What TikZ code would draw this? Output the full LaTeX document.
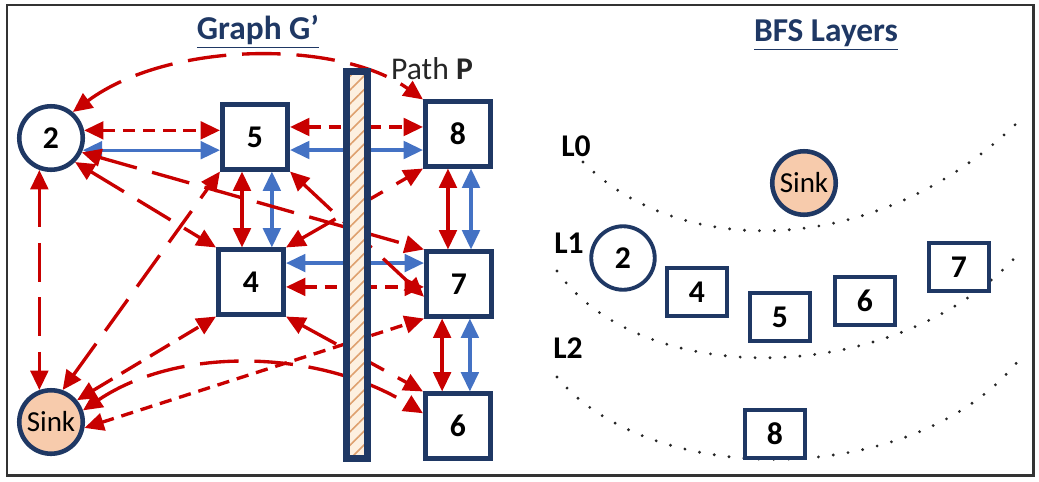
\documentclass[tikz,border=0pt]{standalone}
\usepackage{fontspec}
\setmainfont{Carlito}
\usepackage{xcolor}
\definecolor{gred}{RGB}{200,0,0}
\definecolor{gblue}{RGB}{68,114,196}
\definecolor{gnavy}{RGB}{31,56,100}
\definecolor{gpeach}{RGB}{247,203,172}
\definecolor{gcream}{RGB}{253,240,224}
\definecolor{ghatch}{RGB}{222,160,110}
\usetikzlibrary{arrows.meta,patterns.meta,calc}
\newcommand{\numfont}{\fontsize{18}{18}\selectfont\bfseries}

\begin{document}
\begin{tikzpicture}[x=0.02cm, y=-0.02cm,
    numbox/.style={rectangle, draw=gnavy, line width=2.6pt, fill=white,
                   minimum width=1.31cm, minimum height=1.29cm, font=\numfont},
    numcirc/.style={circle, draw=gnavy, line width=2.6pt, fill=white,
                    minimum size=1.27cm, font=\numfont},
    sinkcirc/.style={circle, draw=gnavy, line width=2.6pt, fill=gpeach,
                     minimum size=1.27cm, inner sep=0pt,
                     font=\fontsize{16.5}{16.5}\selectfont},
    layerbox/.style={rectangle, draw=gnavy, line width=2.2pt, fill=white,
                     minimum width=1.2cm, minimum height=0.96cm, font=\numfont},
    redarr/.style={draw=gred, line width=1.9pt,
                   {Triangle[length=11pt,width=10pt]}-{Triangle[length=11pt,width=10pt]}},
    bluearr/.style={draw=gblue, line width=1.9pt,
                    {Triangle[length=11pt,width=10pt]}-{Triangle[length=11pt,width=10pt]}},
    reddash/.style={redarr, dash pattern=on 7pt off 4.5pt},
    redmid/.style={redarr, dash pattern=on 13pt off 6pt},
    redlong/.style={redarr, dash pattern=on 22pt off 9pt},
    layerline/.style={draw=black!85, line width=1.8pt, line cap=round,
                      dash pattern=on 0pt off 8.5pt},
    titletxt/.style={text=gnavy, font=\fontsize{19}{19}\selectfont\bfseries},
    layerlbl/.style={font=\fontsize{18}{18}\selectfont\bfseries}
  ]
    \useasboundingbox (0,0) rectangle (1039,481);
    \draw[line width=1.7pt, black!80] (7,5) rectangle (1033,475);

    % Titles
    \node[titletxt] (gtitle) at (258,32) {\underline{Graph G’}};
    \node[titletxt] (btitle) at (826,35) {\underline{BFS Layers}};
    \node[font=\fontsize{18}{18}\selectfont, text=black!85] (plabel) at (432,69) {Path \textbf{P}};

    % Graph G'
    \node[numcirc]  (g2)    at (51,138)  {2};
    \node[sinkcirc] (gsink) at (51,422)  {Sink};
    \node[numbox]   (g5)    at (255,137) {5};
    \node[numbox]   (g4)    at (251,282) {4};
    \node[numbox]   (g8)    at (458,134) {8};
    \node[numbox]   (g7)    at (459,284) {7};
    \node[numbox]   (g6)    at (458,426) {6};

    % horizontal pairs
    \draw[reddash] (g2.13) -- (g2.13 -| g5.west);
    \draw[bluearr] (g2.-21) -- (g2.-21 -| g5.west);
    \draw[reddash] ([yshift=5.7pt]g5.east) -- ([yshift=5.7pt]g5.east -| g8.west);
    \draw[bluearr] ([yshift=-7.4pt]g5.east) -- ([yshift=-7.4pt]g5.east -| g8.west);
    \draw[bluearr] ([yshift=10.8pt]g4.east) -- ([yshift=10.8pt]g4.east -| g7.west);
    \draw[reddash] ([yshift=-2.8pt]g4.east) -- ([yshift=-2.8pt]g4.east -| g7.west);

    % vertical pairs
    \draw[redarr]  ([xshift=-7.4pt]g5.south) -- ([xshift=-7.4pt]g5.south |- g4.north);
    \draw[bluearr] ([xshift=9.6pt]g5.south) -- ([xshift=9.6pt]g5.south |- g4.north);
    \draw[redarr]  ([xshift=-5.7pt]g8.south) -- ([xshift=-5.7pt]g8.south |- g7.north);
    \draw[bluearr] ([xshift=7.4pt]g8.south) -- ([xshift=7.4pt]g8.south |- g7.north);
    \draw[redarr]  ([xshift=-9.6pt]g7.south) -- ([xshift=-9.6pt]g7.south |- g6.north);
    \draw[bluearr] ([xshift=6.2pt]g7.south) -- ([xshift=6.2pt]g7.south |- g6.north);
    \draw[redlong] (g2.-110) -- (gsink.110);

    % diagonals
    \draw[redlong] (g2.50) .. controls (170,40) and (340,40) .. (g8.north west);
    \draw[redlong] (g2.-45) -- (g4.north west);
    \draw[redlong] (g2.-25) -- (g7.north west);
    \draw[redlong] (g5.south east) -- (g7.-160);
    \draw[redlong] (g4.north east) -- (g8.south west);
    \draw[redlong] (g4.south east) -- (g6.north west);
    \draw[redlong] (gsink.70) -- (g5.south west);
    \draw[redmid]  (gsink.40) -- (g4.south west);
    \draw[redlong] (gsink.20) .. controls (180,345) and (320,350) .. (g6.160);
    \draw[reddash] (gsink.-10) -- (g7.south west);

    % Path P bar
    \fill[gcream] (346.5,71.5) rectangle (367.5,458.5);
    \fill[pattern={Lines[angle=45,distance=5.5pt,line width=0.9pt]}, pattern color=ghatch]
      (346.5,71.5) rectangle (367.5,458.5);
    \draw[gnavy, line width=4pt] (346.5,71.5) rectangle (367.5,458.5);

    % BFS layers
    \draw[layerline] (583,162) .. controls (680,260) and (880,260) .. (1022,118);
    \draw[layerline] (557,271) .. controls (640,390) and (900,390) .. (1022,250);
    \draw[layerline] (557,377) .. controls (650,490) and (920,490) .. (1022,356);

    \node[layerlbl] (lab0) at (576,146) {L0};
    \node[layerlbl] (lab1) at (569,243) {L1};
    \node[layerlbl] (lab2) at (568,348) {L2};

    \node[sinkcirc] (bsink) at (804,183) {Sink};
    \node[numcirc, line width=2.2pt] (b2) at (623,258) {2};
    \node[layerbox] (b4) at (697,292) {4};
    \node[layerbox] (b5) at (780,317) {5};
    \node[layerbox] (b6) at (865,301) {6};
    \node[layerbox] (b7) at (959,267) {7};
    \node[layerbox] (b8) at (775,434) {8};
  \end{tikzpicture}
\end{document}
